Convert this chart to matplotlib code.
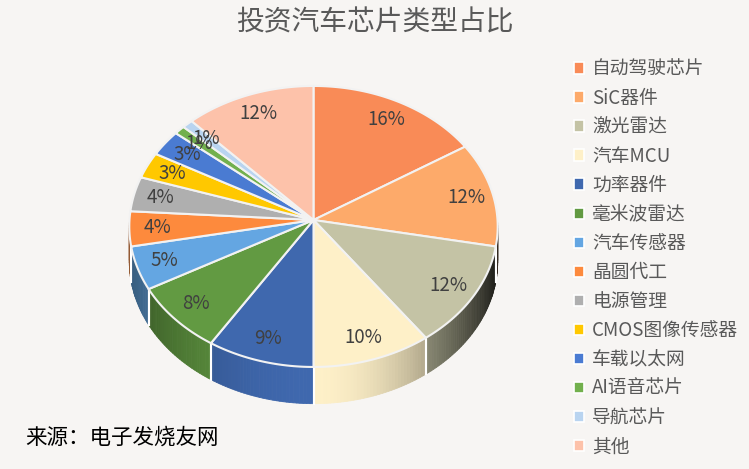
"""3D-style pie chart of invested automotive chip types."""

import numpy as np
import matplotlib
matplotlib.use("Agg")
import matplotlib.pyplot as plt
from matplotlib.patches import Polygon, Patch
from matplotlib.colors import to_rgb

plt.rcParams['font.family'] = ['Noto Sans CJK SC', 'DejaVu Sans']

# ---- data ----
categories = ['自动驾驶芯片', 'SiC器件', '激光雷达', '汽车MCU', '功率器件', '毫米波雷达',
              '汽车传感器', '晶圆代工', '电源管理', 'CMOS图像传感器', '车载以太网',
              'AI语音芯片', '导航芯片', '其他']
shares = [16, 12, 12, 10, 9, 8, 5, 4, 4, 3, 3, 1, 1, 12]
colors = ['#F98B57', '#FDAA6A', '#C4C3A5', '#FEF0C8', '#3F68AE', '#629A42',
          '#64A6E2', '#FD8A3D', '#AFAFAF', '#FFC800', '#4A7BD2', '#72B04D',
          '#B9D4F0', '#FDC2AA']
title = '投资汽车芯片类型占比'
source = '来源：电子发烧友网'

# ---- geometry of the tilted pie (pixel coordinates) ----
W, H = 749, 469
CX, CY = 313.5, 220.0
RX, RY = 184.0, 140.2
K = 0.046          # perspective strength
DEPTH = 35.0
LABEL_R = 0.85


def proj(theta, r=1.0, z=0.0):
    """Project a point of the pie disc (angle clockwise from top) to pixels."""
    u = r * np.sin(theta)
    v = r * np.cos(theta)
    s = 1.0 / (1.0 + K * v)
    return CX + RX * u * s, CY - RY * v * s + DEPTH * z * s


def side_shade(theta):
    sx = np.sin(theta)
    if sx > 0:
        return 1.0 - 0.88 * sx ** 2
    return 1.0 - 0.45 * sx ** 2


fig = plt.figure(figsize=(W / 100, H / 100), dpi=100)
fig.patch.set_facecolor('#F7F5F3')
ax = fig.add_axes([0, 0, 1, 1])
ax.set_xlim(0, W)
ax.set_ylim(H, 0)
ax.axis('off')

fracs = np.array(shares, dtype=float) / sum(shares)
edges = np.concatenate([[0.0], np.cumsum(fracs)]) * 2 * np.pi

# side walls (only the front half is visible)
for i, col in enumerate(colors):
    a0 = max(edges[i], np.pi / 2)
    a1 = min(edges[i + 1], 3 * np.pi / 2)
    if a1 <= a0:
        continue
    base = np.array(to_rgb(col))
    n = max(2, int(np.degrees(a1 - a0)))
    ts = np.linspace(a0, a1, n + 1)
    for t0, t1 in zip(ts[:-1], ts[1:]):
        pts = [proj(t0), proj(t1), proj(t1, z=1), proj(t0, z=1)]
        c = np.clip(base * side_shade(0.5 * (t0 + t1)), 0, 1)
        ax.add_patch(Polygon(pts, closed=True, facecolor=c, edgecolor=c,
                             linewidth=0.6, zorder=1))
    # white seam at slice boundary on the side
    for t in (edges[i], edges[i + 1]):
        if np.pi / 2 < t < 3 * np.pi / 2:
            x0, y0 = proj(t)
            x1, y1 = proj(t, z=1)
            ax.plot([x0, x1], [y0, y1], color='white', lw=1.5, zorder=2)

# top surfaces
for i, col in enumerate(colors):
    n = max(2, int(np.degrees(edges[i + 1] - edges[i])) * 2)
    ts = np.linspace(edges[i], edges[i + 1], n + 1)
    pts = [proj(0, r=0)] + [proj(t) for t in ts]
    ax.add_patch(Polygon(pts, closed=True, facecolor=col, edgecolor='#F2F2F2',
                         linewidth=1.5, joinstyle='round', zorder=3))

# data labels
for i, v in enumerate(shares):
    mid = 0.5 * (edges[i] + edges[i + 1])
    x, y = proj(mid, r=LABEL_R)
    ax.text(x, y, f'{v}%', ha='center', va='center', fontsize=13.5,
            color='#404040', zorder=5)

# title and source
ax.text(375, 22, title, ha='center', va='center', fontsize=20, color='#595959')
ax.text(25, 438, source, ha='left', va='center', fontsize=15.5, color='black')

# legend
handles = [Patch(facecolor=c, edgecolor='white', linewidth=1.2) for c in colors]
leg = ax.legend(handles, categories, loc='upper left',
                bbox_to_anchor=(566 / W, 1 - 51 / H), frameon=False,
                fontsize=13.5, handlelength=0.55, handleheight=0.55,
                handletextpad=0.45, labelspacing=0.43, borderaxespad=0)
for t in leg.get_texts():
    t.set_color('#595959')

fig.savefig('out.png', dpi=100, facecolor=fig.get_facecolor())
